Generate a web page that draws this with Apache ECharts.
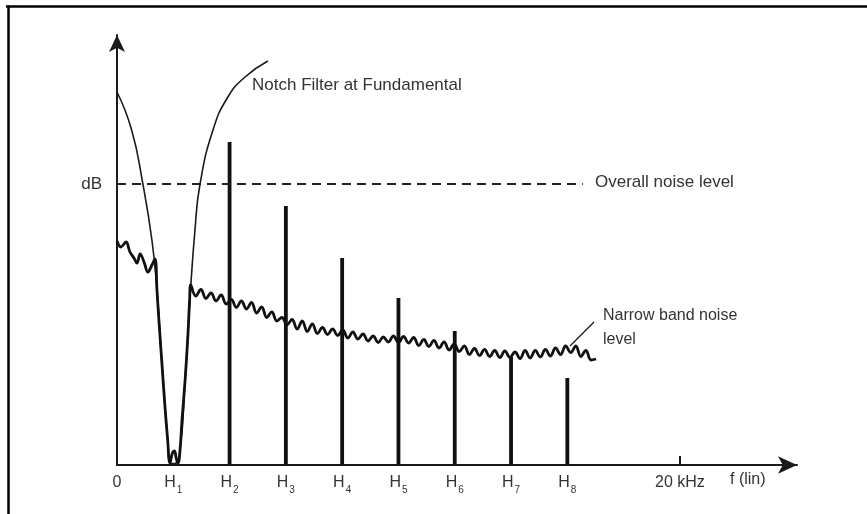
<!DOCTYPE html>
<html>
<head>
<meta charset="utf-8">
<script src="https://cdn.jsdelivr.net/npm/echarts@6/dist/echarts.min.js"></script>
<style>html,body{margin:0;padding:0;background:#fff}#c{width:867px;height:514px}</style>
</head>
<body>
<div id="c"></div>
<script>
// x in kHz (fundamental H1 = 2 kHz), y in arbitrary dB units
const tickValues = [0, 2, 4, 6, 8, 10, 12, 14, 16, 20];
const tickLabels = ['0', 'H|1', 'H|2', 'H|3', 'H|4', 'H|5', 'H|6', 'H|7', 'H|8', '20 kHz'];
const harmonicX = [4, 6, 8, 10, 12, 14, 16];
const harmonicLevel = [64.6, 51.8, 41.4, 33.4, 26.8, 21.6, 17.4];
const overallNoise = [[0, 56.2], [16.55, 56.2]];
const dBLevel = 56.2;
const notchFilter = [
  [0, 74.6], [0.52, 67], [0.92, 56.2], [1.24, 45],
  [1.42, 35], [1.6, 20], [1.8, 5], [1.88, 0.4],
  [2.05, 0.3], [2.24, 3], [2.42, 17], [2.59, 33],
  [2.77, 47], [2.95, 56.2], [3.41, 67], [3.94, 73.6],
  [4.55, 77.6], [5.36, 80.8]
];
const narrowBandNoise = [
  [0, 44.8], [0.14, 43.6], [0.32, 44.6], [0.46, 42.6], [0.6, 41.4], [0.71, 40.4], [0.82, 42.2],
  [0.96, 40.6], [1.10, 38.6], [1.24, 40], [1.35, 41.2], [1.42, 35], [1.5, 28], [1.6, 20],
  [1.7, 12], [1.8, 5], [1.88, 0.4], [1.97, 2.4], [2.04, 2.8], [2.11, 1.2], [2.17, 0.4],
  [2.24, 3], [2.31, 9], [2.42, 17], [2.52, 26], [2.58, 33],
  [2.62, 36.0], [2.80, 33.8], [2.98, 35.1], [3.16, 33.3], [3.34, 34.4], [3.52, 32.8],
  [3.70, 34.0], [3.88, 32.2], [4.06, 33.1], [4.24, 31.5], [4.42, 32.8], [4.60, 31.2],
  [4.78, 32.5], [4.96, 30.4], [5.14, 31.6], [5.32, 29.5], [5.50, 30.6], [5.68, 28.8],
  [5.86, 29.5], [6.04, 28.0], [6.22, 29.1], [6.40, 27.2], [6.58, 28.8], [6.76, 26.7],
  [6.94, 28.2], [7.12, 26.3], [7.30, 27.5], [7.48, 26.1], [7.66, 27.2], [7.84, 25.9],
  [8.02, 27.0], [8.20, 25.4], [8.38, 26.6], [8.56, 25.2], [8.74, 26.2], [8.92, 24.8],
  [9.10, 25.8], [9.28, 24.5], [9.46, 25.6], [9.64, 24.6], [9.82, 25.8], [10.00, 24.5],
  [10.18, 25.7], [10.36, 24.4], [10.54, 25.5], [10.72, 23.9], [10.90, 25.1], [11.08, 23.7],
  [11.26, 24.9], [11.44, 23.4], [11.62, 24.6], [11.80, 23.0], [11.98, 24.2], [12.16, 22.7],
  [12.34, 23.8], [12.52, 22.1], [12.70, 23.3], [12.88, 21.9], [13.06, 23.1], [13.24, 21.7],
  [13.42, 22.9], [13.60, 21.5], [13.78, 22.8], [13.96, 21.5], [14.14, 22.6], [14.32, 21.3],
  [14.50, 22.9], [14.68, 21.4], [14.86, 22.9], [15.04, 21.6], [15.22, 23.1], [15.40, 21.8],
  [15.58, 23.4], [15.76, 22.1], [15.94, 23.8], [16.12, 22.5], [16.30, 23.8], [16.48, 21.7],
  [16.66, 22.9], [16.84, 21.0], [17.02, 21.2]
];

const ink = '#1a1a1a';
const txt = '#333';
const FONT = '"Liberation Sans", Arial, sans-serif';

const chart = echarts.init(document.getElementById('c'), null, {renderer: 'canvas'});
chart.setOption({
  animation: false,
  backgroundColor: '#fff',
  grid: {left: 117, right: 70, top: 35, bottom: 49, containLabel: false},
  xAxis: {
    type: 'value', min: 0, max: 24.16,
    splitLine: {show: false},
    axisLine: {lineStyle: {color: ink, width: 2}, symbol: ['none', 'arrow'], symbolSize: [13, 19]},
    axisTick: {show: true, inside: true, length: 9, lineStyle: {color: ink, width: 2}, customValues: [20]},
    axisLabel: {
      customValues: tickValues,
      margin: 8,
      color: txt, fontFamily: FONT, fontSize: 16,
      formatter: function (v) {
        const i = tickValues.indexOf(Math.round(v * 100) / 100);
        if (i < 0) return '';
        const s = tickLabels[i];
        if (s.indexOf('|') > 0) {
          const p = s.split('|');
          return '{m|' + p[0] + '}{s|' + p[1] + '}';
        }
        return '{m|' + s + '}';
      },
      rich: {
        m: {fontSize: 16, color: txt, fontFamily: FONT, lineHeight: 18, verticalAlign: 'bottom'},
        s: {fontSize: 10, color: txt, fontFamily: FONT, lineHeight: 14, verticalAlign: 'bottom', padding: [0, 0, -4, 1]}
      }
    }
  },
  yAxis: {
    type: 'value', min: 0, max: 86,
    splitLine: {show: false},
    axisLine: {show: true, lineStyle: {color: ink, width: 2}, symbol: ['none', 'arrow'], symbolSize: [12, 17]},
    axisTick: {show: false},
    axisLabel: {
      customValues: [dBLevel],
      margin: 15, color: txt, fontFamily: FONT, fontSize: 17,
      formatter: function () { return 'dB'; }
    }
  },
  series: [
    {
      type: 'line', data: overallNoise, symbol: 'none', silent: true,
      lineStyle: {color: '#222', width: 2, type: [9, 6]}, z: 2
    },
    {
      type: 'line', data: notchFilter, symbol: 'none', smooth: 0.5, silent: true,
      lineStyle: {color: ink, width: 1.6}, z: 3
    },
    {
      type: 'line', data: narrowBandNoise, symbol: 'none', smooth: 0.4, silent: true,
      lineStyle: {color: '#111', width: 2.8}, z: 4
    },
    {
      type: 'bar', data: harmonicX.map((x, i) => [x, harmonicLevel[i]]), barWidth: 3.8, silent: true,
      itemStyle: {color: '#111'}, z: 5
    }
  ],
  graphic: [
    {type: 'line', shape: {x1: 6, y1: 6.5, x2: 867, y2: 6.5}, style: {stroke: '#000', lineWidth: 2.5}},
    {type: 'line', shape: {x1: 8.5, y1: 5.5, x2: 8.5, y2: 514}, style: {stroke: '#000', lineWidth: 2.5}},
    {type: 'text', left: 252, top: 77, style: {text: 'Notch Filter at Fundamental', font: '17px ' + FONT, fill: txt}},
    {type: 'text', left: 595, top: 174, style: {text: 'Overall noise level', font: '17px ' + FONT, fill: txt}},
    {type: 'text', left: 603, top: 308, style: {text: 'Narrow band noise', font: '16px ' + FONT, fill: txt}},
    {type: 'text', left: 603, top: 332, style: {text: 'level', font: '16px ' + FONT, fill: txt}},
    {type: 'line', shape: {x1: 570, y1: 346, x2: 594, y2: 322}, style: {stroke: ink, lineWidth: 1.3}},
    {type: 'text', left: 730, top: 472, style: {text: 'f (lin)', font: '16px ' + FONT, fill: txt}}
  ]
});
</script>
</body>
</html>
